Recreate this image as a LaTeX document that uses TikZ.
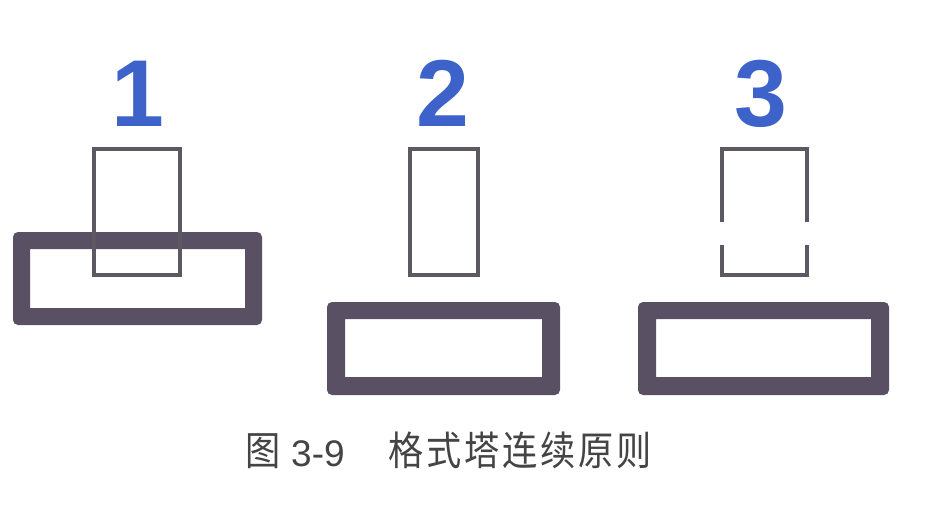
\documentclass[tikz,border=0pt]{standalone}
\usepackage{fontspec}
\setmainfont{Liberation Sans}
\newfontfamily\cjkplain{Noto Sans CJK SC}
\newfontfamily\cjkspaced[LetterSpace=8]{Noto Sans CJK SC}
\definecolor{boxc}{HTML}{5A5064}
\definecolor{linec}{HTML}{5E5862}
\definecolor{numc}{HTML}{3D62C9}
\definecolor{capc}{HTML}{444444}
\begin{document}
\begin{tikzpicture}[x=1pt,y=-1pt,
  numlabel/.style={text=numc,font=\fontsize{95}{95}\selectfont\bfseries,anchor=base,inner sep=0pt},
  thickbox/.style={fill=boxc,even odd rule},
  thinbox/.style={draw=linec,line width=4.5pt},
  captext/.style={text=capc,anchor=base west,inner sep=0pt,xscale=0.88}]
\useasboundingbox (0,0) rectangle (946,504);
\fill[white] (0,0) rectangle (946,504);

% panel 1
\fill[thickbox,rounded corners=5pt] (13,232) rectangle (262,325) [sharp corners] (30,249) rectangle (245,308);
\draw[thinbox] (94,149) rectangle (180,275);
\node[numlabel] (n1) at (138,126) {1};

% panel 2
\fill[thickbox,rounded corners=5pt] (327,302) rectangle (560,395) [sharp corners] (345,319) rectangle (542,377);
\draw[thinbox] (410,149) rectangle (478,275);
\node[numlabel] (n2) at (443,126) {2};

% panel 3
\fill[thickbox,rounded corners=5pt] (638,302) rectangle (889,395) [sharp corners] (656,319) rectangle (871,377);
\draw[thinbox] (722,222) -- (722,149) -- (807,149) -- (807,222);
\draw[thinbox] (722,245) -- (722,275) -- (807,275) -- (807,245);
\node[numlabel] (n3) at (761,126) {3};

% caption
\node[captext,font=\cjkplain\fontsize{40}{40}\selectfont] (fig) at (245,465) {图};
\node[text=capc,anchor=base west,inner sep=0pt,font=\fontsize{37}{37}\selectfont] (num) at (291,466) {3-9};
\node[captext,font=\cjkspaced\fontsize{40}{40}\selectfont] (title) at (388,465) {格式塔连续原则};
\end{tikzpicture}
\end{document}
